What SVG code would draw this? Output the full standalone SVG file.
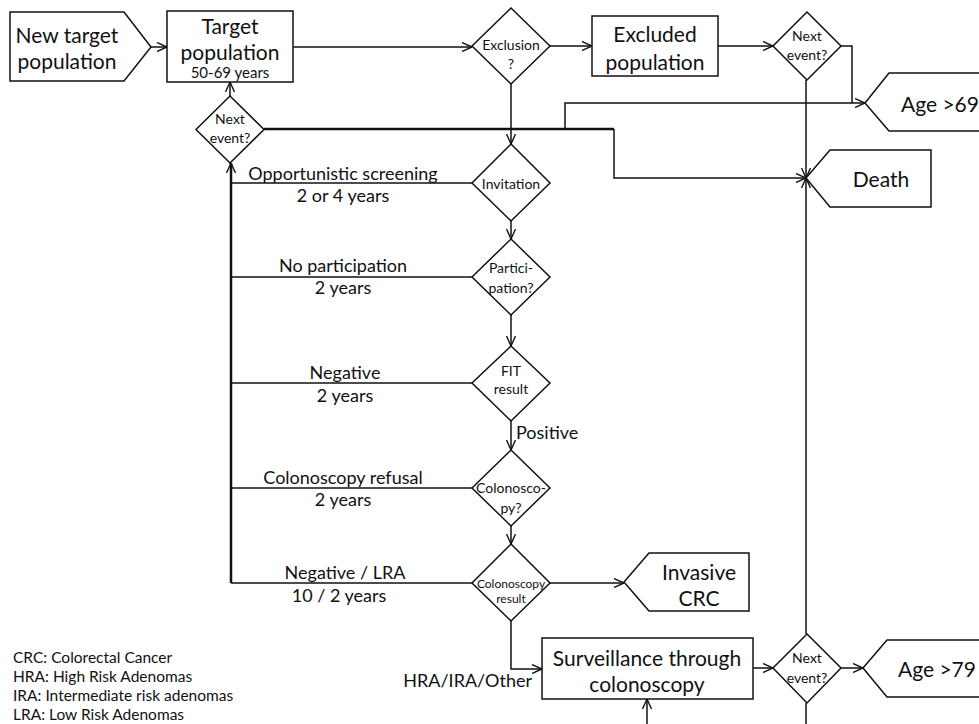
<svg xmlns="http://www.w3.org/2000/svg" width="979" height="724" viewBox="0 0 979 724">
<defs>
<style>
text{font-family:Lato,"Liberation Sans",sans-serif;fill:#111;text-anchor:middle;dominant-baseline:central}
.n{font-size:21px}
.e{font-size:18px}
.d{font-size:14px}
.s{font-size:12px}
.y{font-size:15px}
.lg{font-size:15.5px;text-anchor:start}
.shape{fill:#fff;stroke:#111;stroke-width:1.5}
.c{fill:none;stroke:#111;stroke-width:1.5}
.t{fill:none;stroke:#111;stroke-width:2.5}
</style>
<marker id="a" viewBox="0 0 10 10" refX="10" refY="5" markerWidth="10" markerHeight="10" markerUnits="userSpaceOnUse" orient="auto">
<path d="M0,0.5 L10,5 L0,9.5" fill="none" stroke="#111" stroke-width="1.4"/>
</marker>
</defs>
<rect width="979" height="724" fill="#fff"/>
<g id="connectors">
<path class="c" d="M151,47 H167" marker-end="url(#a)"/>
<path class="c" d="M293,47 H472" marker-end="url(#a)"/>
<path class="c" d="M550,46 H592" marker-end="url(#a)"/>
<path class="c" d="M718,46 H773" marker-end="url(#a)"/>
<path class="c" d="M841,46 H852 V103"/>
<path class="c" d="M565,129 V103 H865" marker-end="url(#a)"/>
<path class="c" d="M806,80 V178" marker-end="url(#a)"/>
<path class="t" d="M264,129 H614"/>
<path class="c" d="M614,129 V178 H806" marker-end="url(#a)"/>
<path class="c" d="M230,96 V82" marker-end="url(#a)"/>
<path class="c" d="M511,84 V144" marker-end="url(#a)"/>
<path class="t" d="M231,583 V163" marker-end="url(#a)"/>
<path class="c" d="M472,183 H231"/>
<path class="c" d="M472,277 H231"/>
<path class="c" d="M472,383 H231"/>
<path class="c" d="M472,488 H231"/>
<path class="c" d="M472,583 H231"/>
<path class="c" d="M511,221 V239" marker-end="url(#a)"/>
<path class="c" d="M511,315 V346" marker-end="url(#a)"/>
<path class="c" d="M511,420 V450" marker-end="url(#a)"/>
<path class="c" d="M511,526 V544" marker-end="url(#a)"/>
<path class="c" d="M550,583 H624" marker-end="url(#a)"/>
<path class="c" d="M511,621 V669 H542" marker-end="url(#a)"/>
<path class="c" d="M647,724 V699" marker-end="url(#a)"/>
<path class="c" d="M753,668 H773" marker-end="url(#a)"/>
<path class="c" d="M841,668 H863" marker-end="url(#a)"/>
<path class="c" d="M806,634 V178" marker-end="url(#a)"/>
<path class="c" d="M806,703 V724"/>
<text class="e" x="343" y="173">Opportunistic screening</text>
<text class="e" x="343" y="195">2 or 4 years</text>
<text class="e" x="343" y="265">No participation</text>
<text class="e" x="343" y="287">2 years</text>
<text class="e" x="345" y="372">Negative</text>
<text class="e" x="345" y="395">2 years</text>
<text class="e" x="516" y="432" style="text-anchor:start">Positive</text>
<text class="e" x="343" y="477">Colonoscopy refusal</text>
<text class="e" x="343" y="499">2 years</text>
<text class="e" x="345" y="572">Negative / LRA</text>
<text class="e" x="339" y="595">10 / 2 years</text>
<text class="e" x="532" y="680" style="text-anchor:end">HRA/IRA/Other</text>
</g>
<g id="new-target">
<path class="shape" d="M10,12 H124 L151,47 L124,81 H10 Z"/>
<text class="n" x="67" y="34">New target</text>
<text class="n" x="67" y="60">population</text>
</g>
<g id="target-population">
<rect class="shape" x="167" y="11" width="126" height="71"/>
<text class="n" x="230" y="25">Target</text>
<text class="n" x="230" y="51">population</text>
<text class="y" x="230" y="72">50-69 years</text>
</g>
<g id="exclusion">
<path class="shape" d="M511,8 L550,46 L511,84 L472,46 Z"/>
<text class="d" x="511" y="44">Exclusion</text>
<text class="d" x="511" y="63">?</text>
</g>
<g id="excluded-population">
<rect class="shape" x="592" y="16" width="126" height="60"/>
<text class="n" x="655" y="33">Excluded</text>
<text class="n" x="655" y="61">population</text>
</g>
<g id="next-event-top">
<path class="shape" d="M807,12 L841,46 L807,80 L773,46 Z"/>
<text class="d" x="807" y="35">Next</text>
<text class="d" x="807" y="54">event?</text>
</g>
<g id="age-69">
<path class="shape" d="M865,103 L889,73 H985 V131 H889 Z"/>
<text class="n" x="940" y="103">Age &gt;69</text>
</g>
<g id="next-event-left">
<path class="shape" d="M230,96 L264,129.5 L230,163 L196,129.5 Z"/>
<text class="d" x="230" y="118">Next</text>
<text class="d" x="230" y="137">event?</text>
</g>
<g id="death">
<path class="shape" d="M806,178 L830,150 H931 V207 H830 Z"/>
<text class="n" x="881" y="178">Death</text>
</g>
<g id="invitation">
<path class="shape" d="M511,144 L550,183 L511,221 L472,183 Z"/>
<text class="d" x="511" y="183">Invitation</text>
</g>
<g id="participation">
<path class="shape" d="M511,239 L550,277 L511,315 L472,277 Z"/>
<text class="d" x="511" y="267">Partici-</text>
<text class="d" x="511" y="287">pation?</text>
</g>
<g id="fit-result">
<path class="shape" d="M511,346 L550,383 L511,421 L472,383 Z"/>
<text class="d" x="511" y="370">FIT</text>
<text class="d" x="511" y="388">result</text>
</g>
<g id="colonoscopy">
<path class="shape" d="M511,450 L550,488 L511,526 L472,488 Z"/>
<text class="d" x="511" y="487">Colonosco-</text>
<text class="d" x="511" y="507">py?</text>
</g>
<g id="colonoscopy-result">
<path class="shape" d="M511,544 L550,583 L511,621 L472,583 Z"/>
<text class="s" x="511" y="583">Colonoscopy</text>
<text class="s" x="511" y="598">result</text>
</g>
<g id="invasive-crc">
<path class="shape" d="M624,582 L649,553 H749 V611 H649 Z"/>
<text class="n" x="699" y="571">Invasive</text>
<text class="n" x="699" y="597">CRC</text>
</g>
<g id="surveillance">
<rect class="shape" x="542" y="638" width="211" height="61"/>
<text class="n" x="647" y="657">Surveillance through</text>
<text class="n" x="647" y="683">colonoscopy</text>
</g>
<g id="next-event-bottom">
<path class="shape" d="M807,634 L841,668 L807,703 L773,668 Z"/>
<text class="d" x="807" y="657">Next</text>
<text class="d" x="807" y="677">event?</text>
</g>
<g id="age-79">
<path class="shape" d="M863,668 L887,640 H985 V697 H887 Z"/>
<text class="n" x="937" y="668">Age &gt;79</text>
</g>
<g id="legend">
<text class="lg" x="13" y="657">CRC: Colorectal Cancer</text>
<text class="lg" x="13" y="676">HRA: High Risk Adenomas</text>
<text class="lg" x="13" y="695">IRA: Intermediate risk adenomas</text>
<text class="lg" x="13" y="714">LRA: Low Risk Adenomas</text>
</g>
</svg>
